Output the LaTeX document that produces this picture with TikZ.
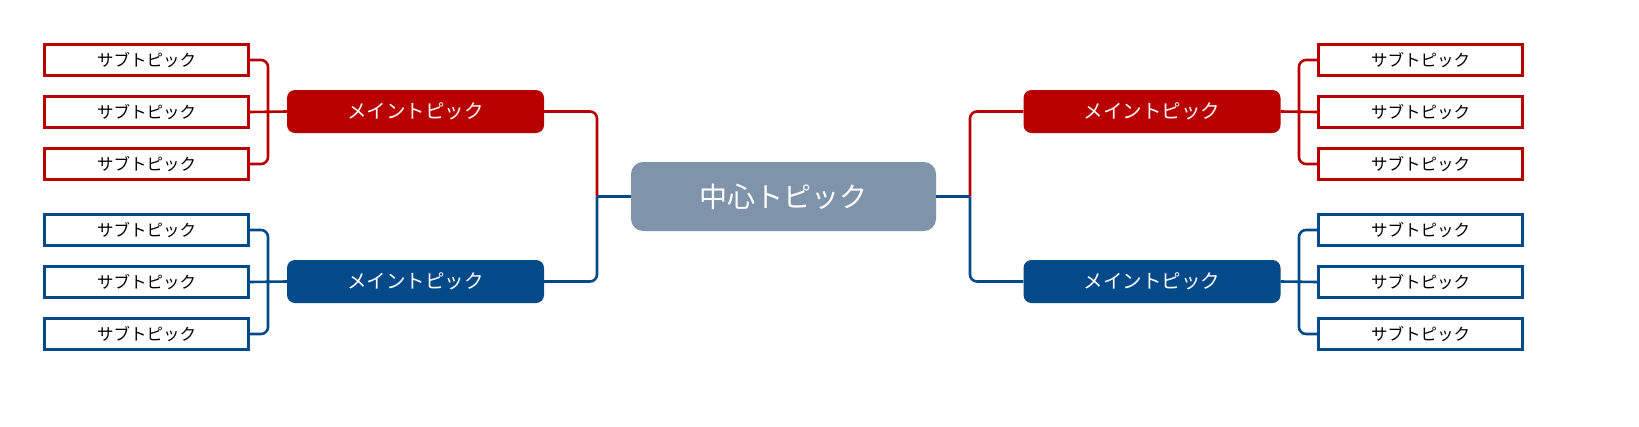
\documentclass[tikz,border=0pt]{standalone}
\usepackage{fontspec}
\setmainfont{Noto Sans CJK JP}
\definecolor{cred}{HTML}{B80000}
\definecolor{cblue}{HTML}{044A88}
\definecolor{cgray}{HTML}{7F93AB}
\tikzset{
  subbox/.style={draw=#1, line width=2.8pt, fill=white, minimum width=204pt, minimum height=31pt, inner sep=0pt, font=\fontsize{16.5pt}{18pt}\selectfont, text=black},
  mainbox/.style={fill=#1, rounded corners=8pt, minimum width=257pt, minimum height=43pt, inner sep=0pt, font=\fontsize{19.5pt}{21pt}\selectfont, text=white},
  centerbox/.style={fill=cgray, rounded corners=12pt, minimum width=305pt, minimum height=69pt, inner sep=0pt, font=\fontsize{28pt}{30pt}\selectfont, text=white},
  link/.style={draw=#1, line width=2.6pt, rounded corners=7pt}
}
\begin{document}
\begin{tikzpicture}[x=1pt,y=-1pt]
\useasboundingbox (0,0) rectangle (1639,426);
% center
\node[centerbox] (c) at (783.5,196.5) {中心トピック};
% main topics
\node[mainbox=cred] (ml1) at (415.5,111.5) {メイントピック};
\node[mainbox=cblue] (ml2) at (415.5,281.5) {メイントピック};
\node[mainbox=cred] (mr1) at (1152,111.5) {メイントピック};
\node[mainbox=cblue] (mr2) at (1152,281.5) {メイントピック};
% left subs
\node[subbox=cred] (la1) at (146.5,60) {サブトピック};
\node[subbox=cred] (la2) at (146.5,112) {サブトピック};
\node[subbox=cred] (la3) at (146.5,164) {サブトピック};
\node[subbox=cblue] (lb1) at (146.5,230) {サブトピック};
\node[subbox=cblue] (lb2) at (146.5,282) {サブトピック};
\node[subbox=cblue] (lb3) at (146.5,334) {サブトピック};
% right subs
\node[subbox=cred] (ra1) at (1420.5,60) {サブトピック};
\node[subbox=cred] (ra2) at (1420.5,112) {サブトピック};
\node[subbox=cred] (ra3) at (1420.5,164) {サブトピック};
\node[subbox=cblue] (rb1) at (1420.5,230) {サブトピック};
\node[subbox=cblue] (rb2) at (1420.5,282) {サブトピック};
\node[subbox=cblue] (rb3) at (1420.5,334) {サブトピック};
% junctions
\coordinate (cjl) at (597,196.5);
\coordinate (cjr) at (970,196.5);
\coordinate (jla) at (268,112);
\coordinate (jlb) at (268,282);
\coordinate (jra) at (1299,112);
\coordinate (jrb) at (1299,282);
% center links
\draw[link=cred] (ml1.east) -| (cjl);
\draw[link=cblue] (ml2.east) -| (cjl);
\draw[link=cblue] (cjl) -- (c.west);
\draw[link=cred] (mr1.west) -| (cjr);
\draw[link=cblue] (mr2.west) -| (cjr);
\draw[link=cblue] (cjr) -- (c.east);
% left sub links
\draw[link=cred] (la1.east) -| (jla) |- (la3.east);
\draw[link=cred] (la2.east) -- (ml1.west);
\draw[link=cblue] (lb1.east) -| (jlb) |- (lb3.east);
\draw[link=cblue] (lb2.east) -- (ml2.west);
% right sub links
\draw[link=cred] (ra1.west) -| (jra) |- (ra3.west);
\draw[link=cred] (ra2.west) -- (mr1.east);
\draw[link=cblue] (rb1.west) -| (jrb) |- (rb3.west);
\draw[link=cblue] (rb2.west) -- (mr2.east);
\end{tikzpicture}
\end{document}
